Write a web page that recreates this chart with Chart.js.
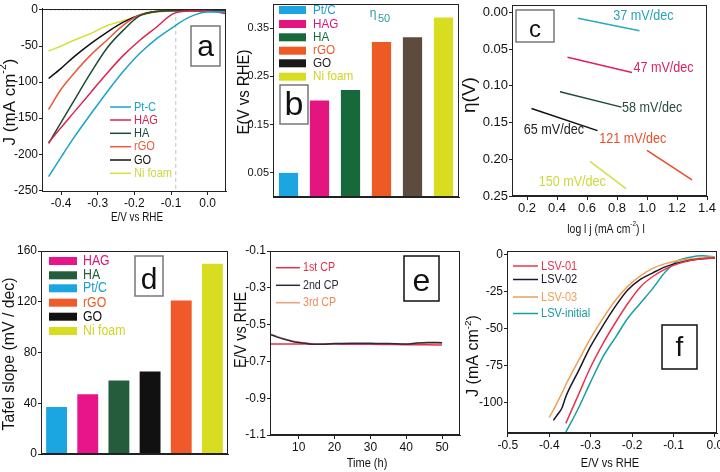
<!DOCTYPE html>
<html><head><meta charset="utf-8">
<script src="https://cdn.jsdelivr.net/npm/chart.js@4.4.1/dist/chart.umd.min.js"></script>
<style>
html,body{margin:0;padding:0;background:#fff;}
#wrap{position:relative;width:720px;height:472px;overflow:hidden;background:#fff;}
canvas{position:absolute;left:0;top:0;width:720px;height:472px;}
</style></head><body>
<div id="wrap">
<canvas id="ca" width="720" height="472"></canvas>
<canvas id="cb" width="720" height="472"></canvas>
<canvas id="cc" width="720" height="472"></canvas>
<canvas id="cd" width="720" height="472"></canvas>
<canvas id="ce" width="720" height="472"></canvas>
<canvas id="cf" width="720" height="472"></canvas>
</div>
<script>
// ================= DATA =================
// Panel a : LSV curves, J (mA cm-2) vs E/V vs RHE
const aE    = [-0.434,-0.40,-0.365,-0.32,-0.275,-0.23,-0.185,-0.14,-0.095,-0.05,0.0,0.05];
const aPtC  = [-231,-204,-177,-145,-114,-85,-60,-40,-24,-10,-3,-3];
const aHAG  = [-184,-163,-142,-115,-88,-63,-42,-24,-5.5,-1.5,-1.5,-5];
const aHA   = [-185,-156,-126,-88,-53,-28,-8,-2,-1,-1,-1,-1];
const aRGO  = [-138,-110,-88,-63,-42,-21,-7,-2,-1,-1,-1,-1];
const aGO   = [-95,-81,-65,-47,-31,-17,-7,-2,-0.5,-0.5,-0.5,-0.5];
const aNi   = [-57,-50,-42,-33,-22,-15,-8,-3,-1,-0.5,-0.5,-0.5];
const aNames = ['Pt-C','HAG','HA','rGO','GO','Ni foam'];
const aRefE = -0.087;
const aTicksX = [-0.4,-0.3,-0.2,-0.1,0.0];
const aTicksY = [0,-50,-100,-150,-200,-250];

// Panel b : eta50 overpotential
const bCats  = ['Pt/C','HAG','HA','rGO','GO','Ni foam'];
const bEta50 = [0.050,0.200,0.222,0.321,0.331,0.372];
const bTicksY = [0.05,0.15,0.25,0.35];

// Panel c : Tafel lines
const cSlopes = [37,47,58,65,121,150];
const cLogJ0  = [0.54,0.47,0.42,0.23,1.00,0.62];
const cLogJ1  = [0.95,0.90,0.83,0.67,1.30,0.86];
const cEta0   = [0.008,0.061,0.108,0.131,0.188,0.203];
const cEta1   = [0.025,0.082,0.129,0.161,0.228,0.240];
const cTicksX = [0.2,0.4,0.6,0.8,1.0,1.2,1.4];
const cTicksY = [0,0.05,0.10,0.15,0.20,0.25];

// Panel d : Tafel slope bars
const dCats  = ['Pt/C','HAG','HA','GO','rGO','Ni foam'];
const dTafel = [37,47,58,65,121,150];
const dLegendOrder = ['HAG','HA','Pt/C','rGO','GO','Ni foam'];
const dTicksY = [0,40,80,120,160];

// Panel e : chronopotentiometry
const eT   = [2,4,6,8,10,12,15,20,25,30,35,40,43,46,50];
const e1st = [-0.605,-0.606,-0.605,-0.606,-0.605,-0.606,-0.607,-0.606,-0.607,-0.607,-0.608,-0.609,-0.609,-0.610,-0.611];
const e2nd = [-0.553,-0.568,-0.580,-0.590,-0.597,-0.602,-0.607,-0.603,-0.601,-0.602,-0.603,-0.606,-0.600,-0.597,-0.598];
const e3rd = [-0.550,-0.565,-0.578,-0.588,-0.595,-0.600,-0.605,-0.604,-0.604,-0.605,-0.606,-0.607,-0.604,-0.601,-0.601];
const eNames = ['1st CP','2nd CP','3rd CP'];
const eTicksX = [10,20,30,40,50];
const eTicksY = [-0.1,-0.3,-0.5,-0.7,-0.9,-1.1];

// Panel f : LSV stability
const fE       = [-0.40,-0.39,-0.38,-0.37,-0.36,-0.33,-0.30,-0.27,-0.24,-0.21,-0.18,-0.15,-0.12,-0.09,-0.06,-0.03,0.0];
const fLSV01   = [null,null,null,null,-114,-95,-76,-60,-46,-33,-22,-15,-10,-6.5,-4.2,-3,-2.5];
const fLSV02   = [null,-112,-108,-104,-96,-79,-62,-48,-35,-24,-17,-12.5,-8.5,-5.8,-4,-3,-2.5];
const fLSV03   = [-110,-105,-99.5,-94,-88,-72,-56.5,-43,-31,-21.5,-14.5,-9.5,-6.3,-4.3,-3.2,-2.3,-1.6];
const fLSVinit = [null,null,null,null,-120,-104,-86,-69,-56,-43,-33,-23,-12,-4.5,-2,-1,-1.8];
const fNames = ['LSV-01','LSV-02','LSV-03','LSV-initial'];
const fTicksX = [-0.5,-0.4,-0.3,-0.2,-0.1,0.0];
const fTicksY = [0,-25,-50,-75,-100];

// ================= STYLE / LAYOUT =================
const FONT = '"Liberation Sans", Arial, Helvetica, sans-serif';
const YW = 40, XH = 25;
const ROT = -Math.PI/2;
const extras = {};

Chart.register({
  id:'frameAndText',
  afterDraw(chart){
    const a = chart.chartArea, ctx = chart.ctx;
    ctx.save();
    ctx.strokeStyle = '#222'; ctx.lineWidth = 1;
    ctx.strokeRect(Math.round(a.left)+0.5, Math.round(a.top)+0.5, Math.round(a.right-a.left)-1, Math.round(a.bottom-a.top)-1);
    ctx.restore();
    const f = extras[chart.canvas.id];
    if (f) f(ctx, chart);
  }
});

function txt(ctx, segs, x, y, o){
  o = o || {};
  const size = o.size || 12, fam = o.family || FONT, sx = o.sx || 1, rot = o.rot || 0;
  const align = o.align || 'center', weight = o.weight || 'normal';
  const parts = (typeof segs === 'string') ? [[segs,0]] : segs;
  ctx.save();
  ctx.translate(x, y); if (rot) ctx.rotate(rot); ctx.scale(sx, 1);
  ctx.fillStyle = o.color || '#111';
  ctx.textBaseline = o.baseline || 'middle';
  ctx.textAlign = 'left';
  let w = 0; const ms = [];
  for (const [t, s] of parts){
    const fs = s ? size*0.62 : size;
    ctx.font = weight + ' ' + fs + 'px ' + fam;
    const mw = ctx.measureText(t).width;
    ms.push([t, s, fs, mw]); w += mw;
  }
  let cx = align === 'center' ? -w/2 : (align === 'right' ? -w : 0);
  for (const [t, s, fs, mw] of ms){
    ctx.font = weight + ' ' + fs + 'px ' + fam;
    ctx.fillText(t, cx, s ? -size*0.38 : 0);
    cx += mw;
  }
  ctx.restore();
}
function box(ctx, x0, y0, x1, y1, stroke, letter, size, base){
  ctx.save();
  ctx.strokeStyle = stroke; ctx.lineWidth = 1.5;
  ctx.strokeRect(x0, y0, x1-x0, y1-y0);
  ctx.restore();
  txt(ctx, letter, (x0+x1)/2, base, {size:size, baseline:'alphabetic', color:'#111'});
}
function legLine(ctx, x0, x1, y, color, label, tcolor, size, sx){
  ctx.save(); ctx.strokeStyle = color; ctx.lineWidth = 1.5;
  ctx.beginPath(); ctx.moveTo(x0, y); ctx.lineTo(x1, y); ctx.stroke(); ctx.restore();
  txt(ctx, label, x1+3, y, {size:size, sx:sx, align:'left', color:tcolor});
}
function legRect(ctx, x0, x1, y, h, color, label, tcolor, tx, size, sx){
  ctx.save(); ctx.fillStyle = color; ctx.fillRect(x0, y-h/2, x1-x0, h); ctx.restore();
  txt(ctx, label, tx, y, {size:size, sx:sx, align:'left', color:tcolor});
}

function axisX(o){
  return {
    type: o.type || 'linear', min: o.min, max: o.max, offset: !!o.offset,
    grid: {display: !o.noTicks, drawOnChartArea:false, drawTicks:true, tickLength:4, tickColor:'#222', color:'#222'},
    border: {display:true, color:'#222', width:1},
    ticks: {display: !o.noTicks, color:'#111', font:{family:FONT, size:o.size||12}, padding:1, maxRotation:0, autoSkip:false,
            callback: o.fmt || (v => v)},
    afterBuildTicks: o.ticks ? (s => { s.ticks = o.ticks.map(v => ({value:v})); }) : undefined,
    afterFit: s => { s.height = XH; s.paddingLeft = 0; s.paddingRight = 0; s.paddingTop = 0; s.paddingBottom = 0; }
  };
}
function axisY(o){
  return {
    type:'linear', min:o.min, max:o.max, reverse: !!o.reverse,
    grid: {display:true, drawOnChartArea:false, drawTicks:true, tickLength:3, tickColor:'#222', color:'#222'},
    border: {display:true, color:'#222', width:1},
    ticks: {color:'#111', font:{family:FONT, size:o.size||12}, padding:1, autoSkip:false, callback: o.fmt || (v => v)},
    afterBuildTicks: s => { s.ticks = o.ticks.map(v => ({value:v})); },
    afterFit: s => { s.width = YW; s.paddingLeft = 0; s.paddingRight = 0; s.paddingTop = 0; s.paddingBottom = 0; }
  };
}
function mk(id, rect, type, data, scales){
  return new Chart(document.getElementById(id), {
    type: type, data: data,
    options: {
      responsive:false, animation:false, devicePixelRatio:1, events:[],
      layout: {padding: {left: rect.l-YW, top: rect.t, right: 720-rect.r, bottom: 472-rect.b-XH}},
      plugins: {legend:{display:false}, tooltip:{enabled:false}, title:{display:false}},
      elements: {point:{radius:0}},
      scales: scales
    }
  });
}
function lineDS(xs, ys, color, extra){
  return Object.assign({
    data: xs.map((x,i) => ({x:x, y:ys[i]})), borderColor: color, backgroundColor: color,
    borderWidth: 1.5, pointRadius: 0, fill:false, cubicInterpolationMode:'monotone'
  }, extra || {});
}

// ---------------- styles ----------------
const aColors = ['#1ba3c8','#d9264f','#1f4a36','#ea5a3a','#111111','#d5e03e'];
const aText   = ['#1ba3c8','#d9264f','#24473a','#ea5a3a','#111111','#ccd63a'];
const bColors = ['#1ba6e2','#e5157f','#17683a','#ee5a24','#5d4b3e','#d9dd1f'];
const bLegCol = ['#1ba6e2','#e5157f','#17683a','#ee5a24','#1a1a1a','#d9dd1f'];
const bText   = ['#1a9fcf','#e0157a','#1d6a3a','#ee5a24','#222222','#cfd520'];
const cColors = ['#2aa8c4','#e01e63','#1e4a3a','#111111','#e84a2a','#d4e040'];
const cText   = ['#2aa0bb','#e01e63','#2a4a40','#222222','#e8502a','#cdd83c'];
const cLabelAt = [[0.976,0.0055],[1.11,0.076],[1.034,0.131],[0.379,0.160],[0.905,0.172],[0.502,0.231]];
const dColorOf = {'Pt/C':'#1ba6e2','HAG':'#e8158a','HA':'#245c3c','GO':'#111111','rGO':'#f05a2a','Ni foam':'#d9dd22'};
const dTextOf  = {'Pt/C':'#1aa0cc','HAG':'#e0157a','HA':'#245c3c','GO':'#111111','rGO':'#f05a2a','Ni foam':'#cfd520'};
const eColors = ['#e3304c','#2b2b3c','#eda070'];
const eText   = ['#e3304c','#2b2b3c','#ec8c5a'];
const fColors = ['#e8334f','#1c1428','#efa055','#14a0a0'];
const fText   = ['#e8334f','#1c1428','#efa055','#1a9aa0'];

// ---------------- overlay drawings (defined before charts render) ----------------
extras.ca = (ctx) => {
  const rows = [107,120,133.3,146.7,160,173.3];
  aNames.forEach((n,i) => legLine(ctx, 110, 131, rows[i], aColors[i], n, aText[i], 13, 0.85));
  box(ctx, 191, 26, 220, 66, '#777', 'a', 30, 56);
  txt(ctx, [['J (mA cm',0],['-2',1],[')',0]], 10, 102, {size:17, rot:ROT});
  txt(ctx, 'E/V vs RHE', 137, 218, {size:12, sx:0.82});
};
extras.cb = (ctx) => {
  const rows = [10,24,37.3,50.7,63.3,76.7];
  bCats.forEach((n,i) => legRect(ctx, 279, 306, rows[i], 8, bLegCol[i], n, bText[i], 313, 13, 0.9));
  txt(ctx, '\u03B7', 373, 14, {size:12, color:'#2a9aa8'});
  txt(ctx, '50', 384, 18.5, {size:11, color:'#2a9aa8'});
  box(ctx, 280, 85, 308, 124, '#777', 'b', 34, 115);
  txt(ctx, 'E(V vs RHE)', 244, 92, {size:17, rot:ROT, sx:0.88});
};
extras.cc = (ctx, ch) => {
  const sx = ch.scales.x, sy = ch.scales.y;
  cSlopes.forEach((s,i) => txt(ctx, s + ' mV/dec', sx.getPixelForValue(cLabelAt[i][0]), sy.getPixelForValue(cLabelAt[i][1]), {size:14, sx:0.9, color:cText[i]}));
  box(ctx, 516, 10, 554, 42, '#777', 'c', 24, 37);
  txt(ctx, '\u03B7(V)', 470, 95, {size:19, rot:ROT});
  txt(ctx, [['log l j (mA cm',0],['-2',1],[') l',0]], 606, 229, {size:13, sx:0.8});
};
extras.cd = (ctx) => {
  const rows = [261,275.3,288.3,302.7,316.7,331];
  dLegendOrder.forEach((n,i) => legRect(ctx, 49, 77, rows[i], 8, dColorOf[n], n, dTextOf[n], 83, 14, 0.88));
  box(ctx, 135, 256, 163, 296, '#777', 'd', 30, 289);
  txt(ctx, 'Tafel slope (mV / dec)', 9, 354, {size:17, rot:ROT, sx:0.93});
};
extras.ce = (ctx) => {
  const rows = [267.7,285.3,302.7];
  eNames.forEach((n,i) => legLine(ctx, 276, 300, rows[i], eColors[i], n, eText[i], 13, 0.82));
  box(ctx, 404, 256, 439, 301, '#111', 'e', 32, 291);
  txt(ctx, 'E/V vs RHE', 242, 330, {size:16, rot:ROT, sx:0.9});
  txt(ctx, 'Time (h)', 367, 463, {size:13, sx:0.85});
};
extras.cf = (ctx) => {
  const rows = [266,279.5,297,313.5];
  fNames.forEach((n,i) => legLine(ctx, 513, 538, rows[i], fColors[i], n, fText[i], 13, 0.85));
  box(ctx, 662, 325, 697, 369, '#111', 'f', 28, 356);
  txt(ctx, [['J (mA cm',0],['-2',1],[')',0]], 474, 356, {size:16, rot:ROT});
  txt(ctx, 'E/V vs RHE', 610, 463, {size:13, sx:0.85});
};

// ---------------- Panel a ----------------
const aSeries = [aPtC, aHAG, aHA, aRGO, aGO, aNi];
mk('ca', {l:42, t:8.5, r:226, b:191}, 'line', {
  datasets: aSeries.map((s,i) => lineDS(aE, s, aColors[i], {label:aNames[i]})).concat([
    lineDS([aRefE, aRefE], [0, -250], '#cdb9cf', {borderWidth:1, borderDash:[4,3], cubicInterpolationMode:'default'}),
    lineDS([-0.43, 0.0], [0, 0], '#c8c8c8', {borderWidth:1, borderDash:[2,2], cubicInterpolationMode:'default'})
  ])
}, {
  x: axisX({min:-0.452, max:0.05, ticks:aTicksX, fmt: v => v.toFixed(1), size:12}),
  y: axisY({min:-251, max:2, ticks:aTicksY, fmt: v => String(v), size:12})
});

// ---------------- Panel b ----------------
mk('cb', {l:273, t:4, r:459, b:197}, 'bar', {
  labels: bCats,
  datasets: [{data: bEta50, backgroundColor: bColors, barPercentage:0.62, categoryPercentage:1, borderWidth:0}]
}, {
  x: axisX({type:'category', offset:true, noTicks:true}),
  y: axisY({min:0, max:0.4, ticks:bTicksY, fmt: v => v.toFixed(2), size:11})
});

// ---------------- Panel c ----------------
mk('cc', {l:512, t:5, r:707, b:196}, 'line', {
  datasets: cSlopes.map((s,i) => lineDS([cLogJ0[i], cLogJ1[i]], [cEta0[i], cEta1[i]], cColors[i], {cubicInterpolationMode:'default'}))
}, {
  x: axisX({min:0.1, max:1.4, ticks:cTicksX, fmt: v => v.toFixed(1), size:13}),
  y: axisY({min:-0.01, max:0.25, reverse:true, ticks:cTicksY, fmt: v => v.toFixed(2), size:13})
});

// ---------------- Panel d ----------------
mk('cd', {l:41, t:251, r:228, b:454}, 'bar', {
  labels: dCats,
  datasets: [{data: dTafel, backgroundColor: dCats.map(c => dColorOf[c]), barPercentage:0.67, categoryPercentage:1, borderWidth:0}]
}, {
  x: axisX({type:'category', offset:true, noTicks:true}),
  y: axisY({min:0, max:160, ticks:dTicksY, fmt: v => String(v), size:12})
});

// ---------------- Panel e ----------------
mk('ce', {l:270, t:251, r:460, b:435}, 'line', {
  datasets: [
    lineDS(eT, e1st, eColors[0], {order:1}),
    lineDS(eT, e2nd, eColors[1], {order:0}),
    lineDS(eT, e3rd, eColors[2], {order:2})
  ]
}, {
  x: axisX({min:2, max:55, ticks:eTicksX, fmt: v => String(v), size:12}),
  y: axisY({min:-1.1, max:-0.1, ticks:eTicksY, fmt: v => v.toFixed(1), size:12})
});

// ---------------- Panel f ----------------
const fSeries = [fLSV01, fLSV02, fLSV03, fLSVinit];
mk('cf', {l:507, t:251, r:717, b:433}, 'line', {
  datasets: fSeries.map((s,i) => lineDS(fE, s, fColors[i], {label:fNames[i]}))
}, {
  x: axisX({min:-0.502, max:0.005, ticks:fTicksX, fmt: v => v.toFixed(1), size:12}),
  y: axisY({min:-120.5, max:2.2, ticks:fTicksY, fmt: v => String(v), size:12})
});
</script>
</body></html>
